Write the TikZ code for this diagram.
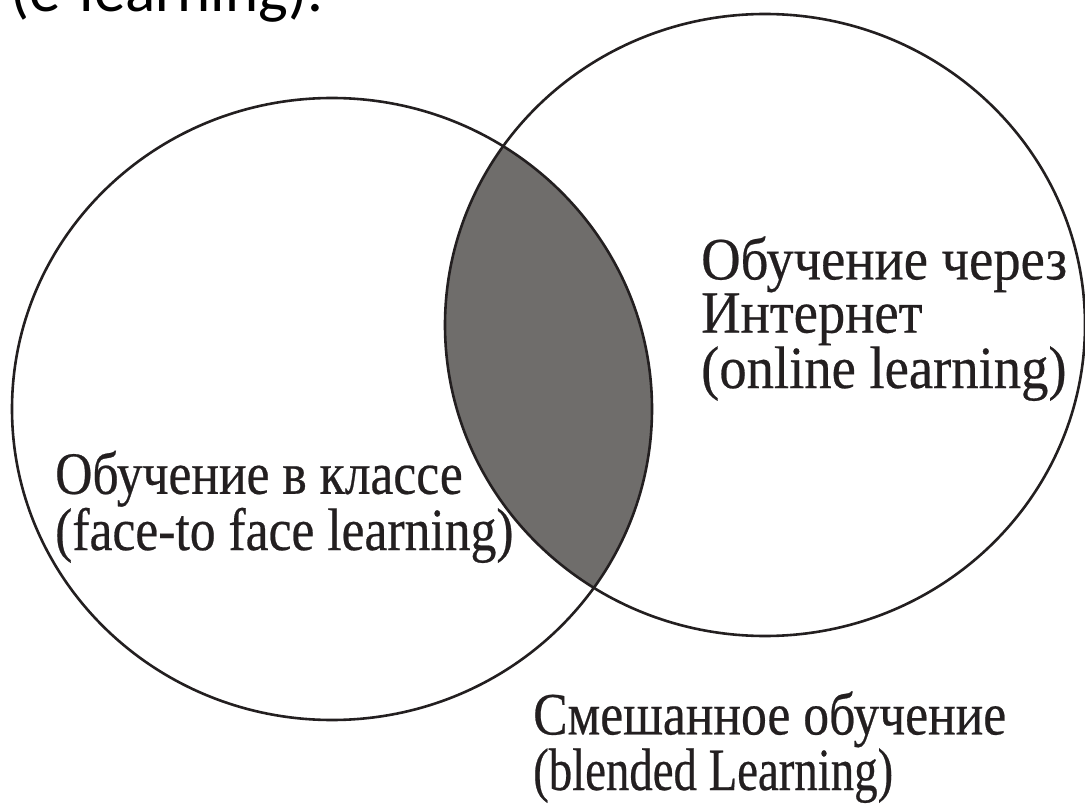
\documentclass[tikz,border=0pt]{standalone}
\usepackage{fontspec}
\setmainfont{Liberation Serif}[FakeStretch=0.86, FakeBold=0.4]
\newfontfamily\wideserif{Liberation Serif}[FakeStretch=0.91, FakeBold=0.4]
\newfontfamily\narrowserif{Liberation Serif}[FakeStretch=0.78, FakeBold=0.4]
\newfontfamily\headfont{Carlito}
\definecolor{ink}{HTML}{231F20}
\definecolor{lens}{HTML}{6F6D6B}
\tikzset{
  venn/.style={draw=ink, line width=2.6pt},
  lbl/.style={anchor=base west, inner sep=0pt, align=left, text=ink,
    font=\fontsize{60}{51}\selectfont},
  head/.style={anchor=base west, inner sep=0pt, text=black,
    font=\headfont\fontsize{63}{70}\selectfont}
}
\begin{document}
\begin{tikzpicture}[x=1pt,y=-1pt]
  \clip (0,0) rectangle (1085,805);
  \fill[white] (0,0) rectangle (1085,805);
  \coordinate (cl) at (332,409);
  \coordinate (cr) at (765,325);
  \begin{scope}
    \clip (cl) ellipse [x radius=320pt, y radius=311pt];
    \fill[lens] (cr) ellipse [x radius=320pt, y radius=311pt];
  \end{scope}
  \draw[venn] (cl) ellipse [x radius=320pt, y radius=311pt];
  \draw[venn] (cr) ellipse [x radius=320pt, y radius=311pt];
  \node[head] (title) at (10,12) {(e-learning).};
  \node[lbl, font=\wideserif\fontsize{60}{52}\selectfont] (online) at (701,388)
    {Обучение через\\Интернет\\(online learning)};
  \node[lbl, font=\fontsize{60}{50}\selectfont] (class) at (55,550)
    {Обучение в классе\\(face-to face learning)};
  \node[lbl, font=\fontsize{60}{50}\selectfont] (blend) at (533,790)
    {Смешанное обучение\\{\narrowserif (blended Learning)}};
\end{tikzpicture}
\end{document}
